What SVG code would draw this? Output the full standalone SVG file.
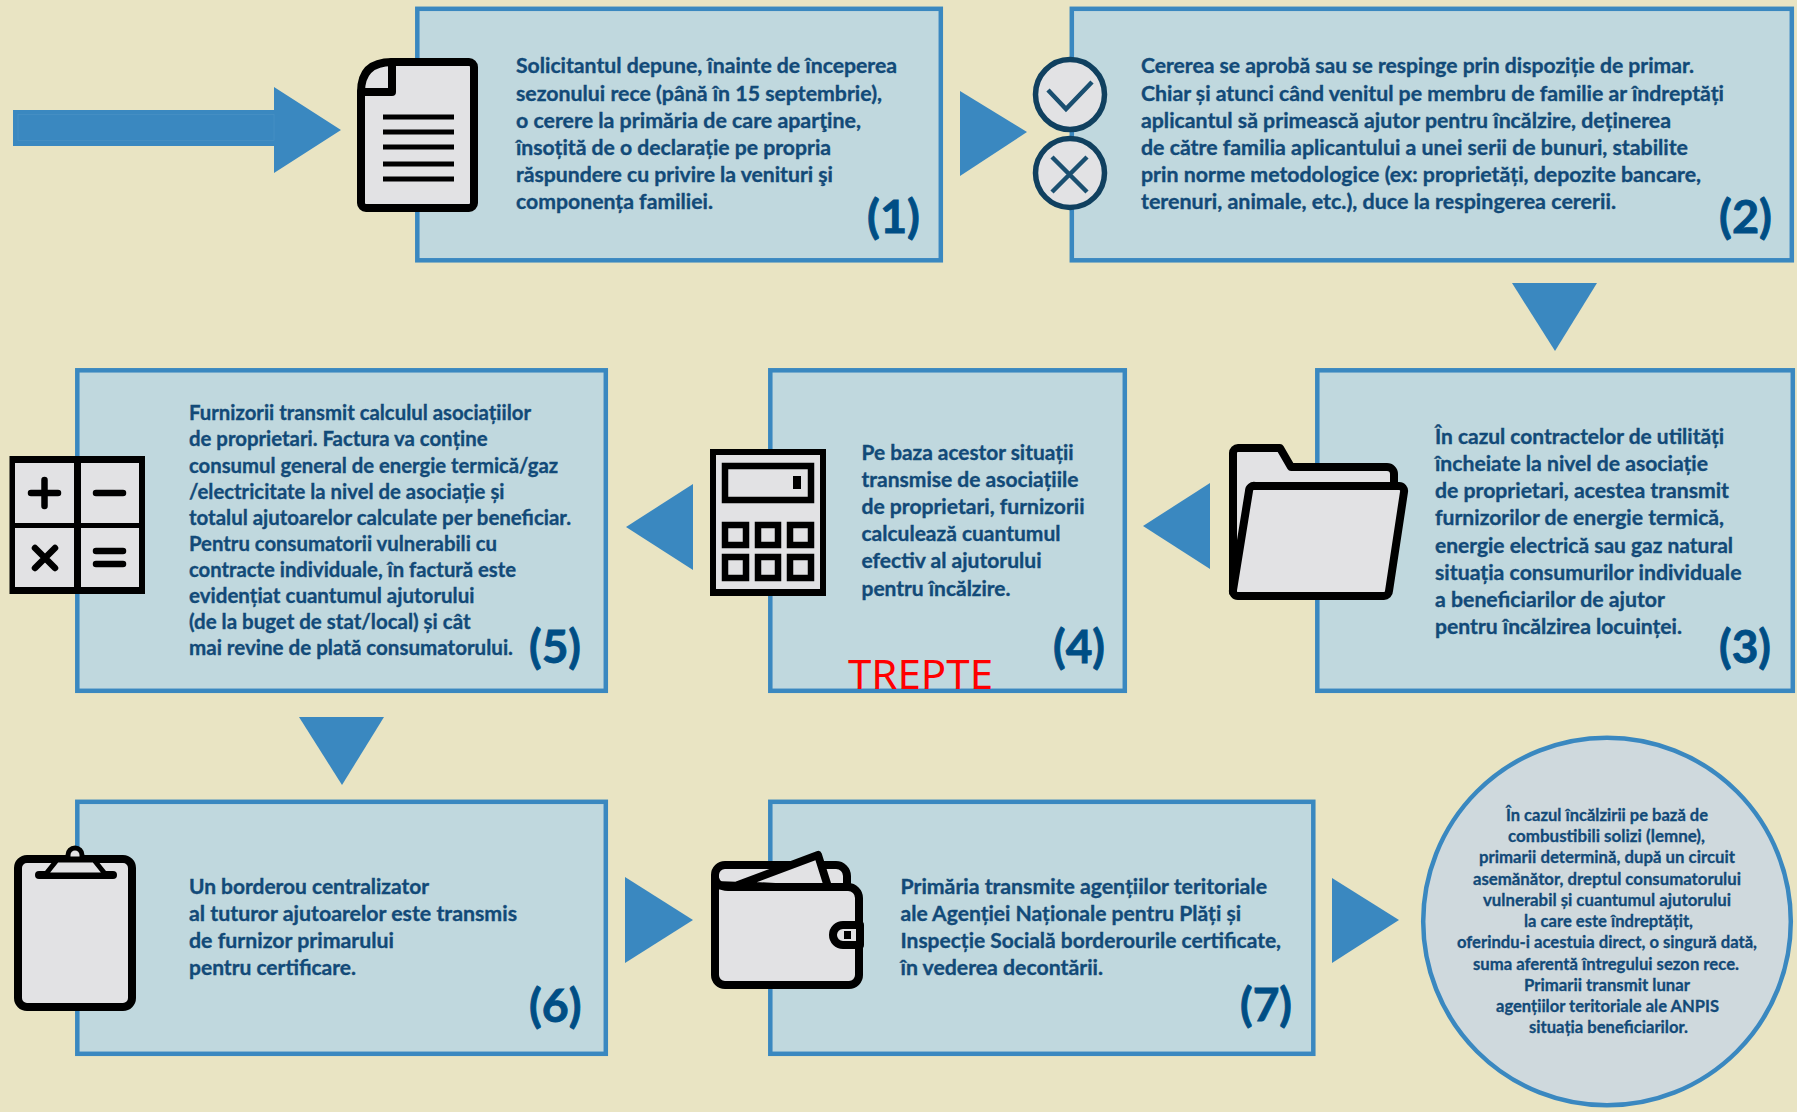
<svg xmlns="http://www.w3.org/2000/svg" width="1797" height="1112" viewBox="0 0 1797 1112">
<style>
.box{fill:#c0d8de;stroke:#3a88c0;stroke-width:4.5}
.arr{fill:#3a88c0}
.t{font-family:Lato,"Liberation Sans",sans-serif;font-weight:700;font-size:20.5px;fill:#124a78;stroke:#124a78;stroke-width:.35}
.c{font-family:Lato,"Liberation Sans",sans-serif;font-weight:700;font-size:17px;fill:#124a78;stroke:#124a78;stroke-width:.3}
.n{font-family:Lato,"Liberation Sans",sans-serif;font-weight:700;font-size:45px;fill:#004e85;stroke:#004e85;stroke-width:.8}
.ic{fill:#e2e2e4;stroke:#000;stroke-width:8;stroke-linejoin:round;stroke-linecap:round}
.bk{fill:none;stroke:#000;stroke-width:8;stroke-linecap:round;stroke-linejoin:round}
.dk{fill:#e2e2e4;stroke:#10405f;stroke-width:5.500}
.mk{fill:none;stroke:#1a4f70;stroke-width:4.500}
</style>
<rect width="1797" height="1112" fill="#e9e4c3"/>
<g id="connectors">
<path class="arr" d="M13 110H274V87L341 130L274 173V146H13Z"/>
<rect x="18" y="114.500" width="256" height="26" fill="none" stroke="#4f94c5" stroke-width="0.500"/>
<polygon class="arr" points="960,91 1027,132 960,176"/>
<polygon class="arr" points="1512,283 1597,283 1555,351"/>
<polygon class="arr" points="1210,483 1143,526 1210,569"/>
<polygon class="arr" points="693,484 626,527 693,570"/>
<polygon class="arr" points="299,717 384,717 342,785"/>
<polygon class="arr" points="625,877 693,920 625,963"/>
<polygon class="arr" points="1332,878 1399,920 1332,963"/>
</g>
<g id="node1">
<rect class="box" x="417.300" y="8.800" width="523.500" height="251.500"/>
<text class="t" x="516" y="73" textLength="381" lengthAdjust="spacingAndGlyphs">Solicitantul depune, înainte de începerea</text>
<text class="t" x="516" y="100.700" textLength="366" lengthAdjust="spacingAndGlyphs">sezonului rece (până în 15 septembrie),</text>
<text class="t" x="516" y="128" textLength="345" lengthAdjust="spacingAndGlyphs">o cerere la primăria de care aparţine,</text>
<text class="t" x="516" y="155" textLength="315" lengthAdjust="spacingAndGlyphs">însoțită de o declarație pe propria</text>
<text class="t" x="516" y="182" textLength="317" lengthAdjust="spacingAndGlyphs">răspundere cu privire la venituri şi</text>
<text class="t" x="516" y="209" textLength="197" lengthAdjust="spacingAndGlyphs">componența familiei.</text>
<text class="n" x="867" y="233" textLength="53" lengthAdjust="spacingAndGlyphs">(1)</text>
<g id="icon-doc">
<path class="ic" d="M392 62H469a5 5 0 0 1 5 5V203a5 5 0 0 1-5 5H366a5 5 0 0 1-5-5V92Q361 62 392 62Z"/>
<path class="bk" d="M392 62V92H361"/>
<path d="M383 117H454M383 132H454M383 147H454M383 164H454M383 179H454" fill="none" stroke="#000" stroke-width="5"/>
</g>
</g>
<g id="node2">
<rect class="box" x="1071.800" y="8.800" width="720" height="251.500"/>
<text class="t" x="1141" y="73" textLength="553" lengthAdjust="spacingAndGlyphs">Cererea se aprobă sau se respinge prin dispoziție de primar.</text>
<text class="t" x="1141" y="100.700" textLength="583" lengthAdjust="spacingAndGlyphs">Chiar și atunci când venitul pe membru de familie ar îndreptăți</text>
<text class="t" x="1141" y="128" textLength="530" lengthAdjust="spacingAndGlyphs">aplicantul să primească ajutor pentru încălzire, deținerea</text>
<text class="t" x="1141" y="155" textLength="547" lengthAdjust="spacingAndGlyphs">de către familia aplicantului a unei serii de bunuri, stabilite</text>
<text class="t" x="1141" y="182" textLength="560" lengthAdjust="spacingAndGlyphs">prin norme metodologice (ex: proprietăți, depozite bancare,</text>
<text class="t" x="1141" y="208.500" textLength="475" lengthAdjust="spacingAndGlyphs">terenuri, animale, etc.), duce la respingerea cererii.</text>
<text class="n" x="1719" y="233" textLength="53" lengthAdjust="spacingAndGlyphs">(2)</text>
<g id="icon-check">
<ellipse class="dk" cx="1070" cy="94.500" rx="34.500" ry="35"/>
<path class="mk" d="M1048 90L1066 109L1092 82"/>
</g>
<g id="icon-cross">
<ellipse class="dk" cx="1070" cy="173" rx="34.500" ry="34.500"/>
<path class="mk" d="M1052 157L1087 192M1087 157L1052 192"/>
</g>
</g>
<g id="node3">
<rect class="box" x="1317.300" y="370.300" width="475.500" height="320.500"/>
<text class="t" x="1435" y="444" textLength="289" lengthAdjust="spacingAndGlyphs">În cazul contractelor de utilități</text>
<text class="t" x="1435" y="471" textLength="273" lengthAdjust="spacingAndGlyphs">încheiate la nivel de asociație</text>
<text class="t" x="1435" y="498" textLength="294" lengthAdjust="spacingAndGlyphs">de proprietari, acestea transmit</text>
<text class="t" x="1435" y="525" textLength="289" lengthAdjust="spacingAndGlyphs">furnizorilor de energie termică,</text>
<text class="t" x="1435" y="552.500" textLength="298" lengthAdjust="spacingAndGlyphs">energie electrică sau gaz natural</text>
<text class="t" x="1435" y="579.500" textLength="306.500" lengthAdjust="spacingAndGlyphs">situația consumurilor individuale</text>
<text class="t" x="1435" y="606.500" textLength="230" lengthAdjust="spacingAndGlyphs">a beneficiarilor de ajutor</text>
<text class="t" x="1435" y="633.500" textLength="247" lengthAdjust="spacingAndGlyphs">pentru încălzirea locuinței.</text>
<text class="n" x="1719" y="663" textLength="52" lengthAdjust="spacingAndGlyphs">(3)</text>
<g id="icon-folder">
<path class="ic" d="M1233 592V453a5 5 0 0 1 5-5H1280L1291 467H1387a7 7 0 0 1 7 7V500L1300 592Z"/>
<path class="ic" d="M1255 486H1399a5 5 0 0 1 5 6L1389 591a5 5 0 0 1-5 5H1238a5 5 0 0 1-5-6L1249 491a5 5 0 0 1 6-5Z"/>
</g>
</g>
<g id="node4">
<rect class="box" x="770.300" y="370.300" width="354.500" height="320.500"/>
<text class="t" x="861.500" y="460" textLength="212" lengthAdjust="spacingAndGlyphs">Pe baza acestor situații</text>
<text class="t" x="861.500" y="487" textLength="217" lengthAdjust="spacingAndGlyphs">transmise de asociațiile</text>
<text class="t" x="861.500" y="514" textLength="223" lengthAdjust="spacingAndGlyphs">de proprietari, furnizorii</text>
<text class="t" x="861.500" y="541" textLength="199" lengthAdjust="spacingAndGlyphs">calculează cuantumul</text>
<text class="t" x="861.500" y="568" textLength="180" lengthAdjust="spacingAndGlyphs">efectiv al ajutorului</text>
<text class="t" x="861.500" y="595.500" textLength="149" lengthAdjust="spacingAndGlyphs">pentru încălzire.</text>
<text class="n" x="1053" y="663" textLength="52" lengthAdjust="spacingAndGlyphs">(4)</text>
<text x="848" y="689" font-family="'Noto Sans',sans-serif" font-size="40" fill="#ff0000" textLength="145" lengthAdjust="spacingAndGlyphs">TREPTE</text>
<g id="icon-calculator">
<rect x="710" y="449" width="116" height="147" fill="#000"/>
<rect x="716" y="455" width="104" height="134" fill="#e2e2e4"/>
<rect x="725" y="466" width="86" height="34" fill="#e2e2e4" stroke="#000" stroke-width="6.500"/>
<rect x="793" y="476" width="8" height="13" fill="#000"/>
<g fill="#e2e2e4" stroke="#000" stroke-width="6.500">
<rect x="725" y="525" width="21" height="20"/><rect x="758" y="525" width="20" height="20"/><rect x="790" y="525" width="21" height="20"/>
<rect x="725" y="557" width="21" height="21"/><rect x="758" y="557" width="20" height="21"/><rect x="790" y="557" width="21" height="21"/>
</g>
</g>
</g>
<g id="node5">
<rect class="box" x="77.300" y="370.300" width="528.500" height="320.500"/>
<text class="t" x="189" y="420" textLength="342" lengthAdjust="spacingAndGlyphs">Furnizorii transmit calculul asociațiilor</text>
<text class="t" x="189" y="446" textLength="298.500" lengthAdjust="spacingAndGlyphs">de proprietari. Factura va conține</text>
<text class="t" x="189" y="472.500" textLength="369" lengthAdjust="spacingAndGlyphs">consumul general de energie termică/gaz</text>
<text class="t" x="189" y="498.500" textLength="315.500" lengthAdjust="spacingAndGlyphs">/electricitate la nivel de asociație și</text>
<text class="t" x="189" y="524.500" textLength="382" lengthAdjust="spacingAndGlyphs">totalul ajutoarelor calculate per beneficiar.</text>
<text class="t" x="189" y="550.500" textLength="308" lengthAdjust="spacingAndGlyphs">Pentru consumatorii vulnerabili cu</text>
<text class="t" x="189" y="577" textLength="327" lengthAdjust="spacingAndGlyphs">contracte individuale, în factură este</text>
<text class="t" x="189" y="603" textLength="285.500" lengthAdjust="spacingAndGlyphs">evidențiat cuantumul ajutorului</text>
<text class="t" x="189" y="629" textLength="281.500" lengthAdjust="spacingAndGlyphs">(de la buget de stat/local) și cât</text>
<text class="t" x="189" y="655" textLength="324" lengthAdjust="spacingAndGlyphs">mai revine de plată consumatorului.</text>
<text class="n" x="529" y="663" textLength="52" lengthAdjust="spacingAndGlyphs">(5)</text>
<g id="icon-operators">
<rect x="9.500" y="456" width="135.500" height="138" fill="#000"/>
<g fill="#e2e2e4"><rect x="15" y="463" width="59" height="60"/><rect x="81" y="463" width="58" height="60"/><rect x="15" y="528" width="59" height="59"/><rect x="81" y="528" width="58" height="59"/></g>
<path d="M31 493H58M44.500 480V506M96 493H123M35 548L55 568M55 548L35 568M96 551H123M96 564H123" fill="none" stroke="#000" stroke-width="6.500" stroke-linecap="round"/>
</g>
</g>
<g id="node6">
<rect class="box" x="77.300" y="801.800" width="528.500" height="252"/>
<text class="t" x="189" y="893.500" textLength="240" lengthAdjust="spacingAndGlyphs">Un borderou centralizator</text>
<text class="t" x="189" y="920.500" textLength="328" lengthAdjust="spacingAndGlyphs">al tuturor ajutoarelor este transmis</text>
<text class="t" x="189" y="947.500" textLength="205" lengthAdjust="spacingAndGlyphs">de furnizor primarului</text>
<text class="t" x="189" y="974.500" textLength="167" lengthAdjust="spacingAndGlyphs">pentru certificare.</text>
<text class="n" x="529" y="1022" textLength="52.500" lengthAdjust="spacingAndGlyphs">(6)</text>
<g id="icon-clipboard">
<rect class="ic" x="18" y="859" width="114" height="148" rx="9"/>
<path class="bk" d="M39 875H113"/>
<path d="M45 875L57 860H94L106 875Z" fill="#e2e2e4" stroke="#000" stroke-width="5" stroke-linejoin="round"/>
<path d="M68 859V855a7 7 0 0 1 14 0V859Z" fill="#e2e2e4" stroke="#000" stroke-width="5"/>
</g>
</g>
<g id="node7">
<rect class="box" x="770.300" y="801.800" width="543" height="252"/>
<text class="t" x="900.500" y="893.500" textLength="366.500" lengthAdjust="spacingAndGlyphs">Primăria transmite agențiilor teritoriale</text>
<text class="t" x="900.500" y="921" textLength="340.500" lengthAdjust="spacingAndGlyphs">ale Agenției Naționale pentru Plăți și</text>
<text class="t" x="900.500" y="948" textLength="380.500" lengthAdjust="spacingAndGlyphs">Inspecție Socială borderourile certificate,</text>
<text class="t" x="900.500" y="975" textLength="202.500" lengthAdjust="spacingAndGlyphs">în vederea decontării.</text>
<text class="n" x="1240" y="1021" textLength="52" lengthAdjust="spacingAndGlyphs">(7)</text>
<g id="icon-wallet">
<path class="ic" d="M715 885V875a10 10 0 0 1 10-10H836a11 11 0 0 1 11 11V890Z"/>
<path class="ic" d="M738 885L818 855L829 890Z"/>
<path class="ic" d="M715 878V975a10 10 0 0 0 10 10H849a10 10 0 0 0 10-10V898a11 11 0 0 0-11-11H728Q717 887 715 878Z"/>
<path class="ic" d="M860 925H843a10 10 0 0 0 0 20H860Z" stroke-width="6.500"/>
<rect x="844" y="931" width="7" height="8" fill="#000"/>
</g>
</g>
<g id="node8">
<circle cx="1607" cy="921.500" r="183.800" fill="#cfd9dd" stroke="#3a88c0" stroke-width="4.500"/>
<text class="c" x="1506" y="821" textLength="202" lengthAdjust="spacingAndGlyphs">În cazul încălzirii pe bază de</text>
<text class="c" x="1508" y="842" textLength="197" lengthAdjust="spacingAndGlyphs">combustibili solizi (lemne),</text>
<text class="c" x="1479" y="863" textLength="256" lengthAdjust="spacingAndGlyphs">primarii determină, după un circuit</text>
<text class="c" x="1473" y="885" textLength="268" lengthAdjust="spacingAndGlyphs">asemănător, dreptul consumatorului</text>
<text class="c" x="1483" y="906" textLength="248" lengthAdjust="spacingAndGlyphs">vulnerabil și cuantumul ajutorului</text>
<text class="c" x="1524" y="927" textLength="169" lengthAdjust="spacingAndGlyphs">la care este îndreptățit,</text>
<text class="c" x="1457" y="948" textLength="300" lengthAdjust="spacingAndGlyphs">oferindu-i acestuia direct, o singură dată,</text>
<text class="c" x="1473" y="970" textLength="266" lengthAdjust="spacingAndGlyphs">suma aferentă întregului sezon rece.</text>
<text class="c" x="1524" y="991" textLength="166" lengthAdjust="spacingAndGlyphs">Primarii transmit lunar</text>
<text class="c" x="1496" y="1012" textLength="223" lengthAdjust="spacingAndGlyphs">agențiilor teritoriale ale ANPIS</text>
<text class="c" x="1529" y="1033" textLength="159" lengthAdjust="spacingAndGlyphs">situația beneficiarilor.</text>
</g>
</svg>
